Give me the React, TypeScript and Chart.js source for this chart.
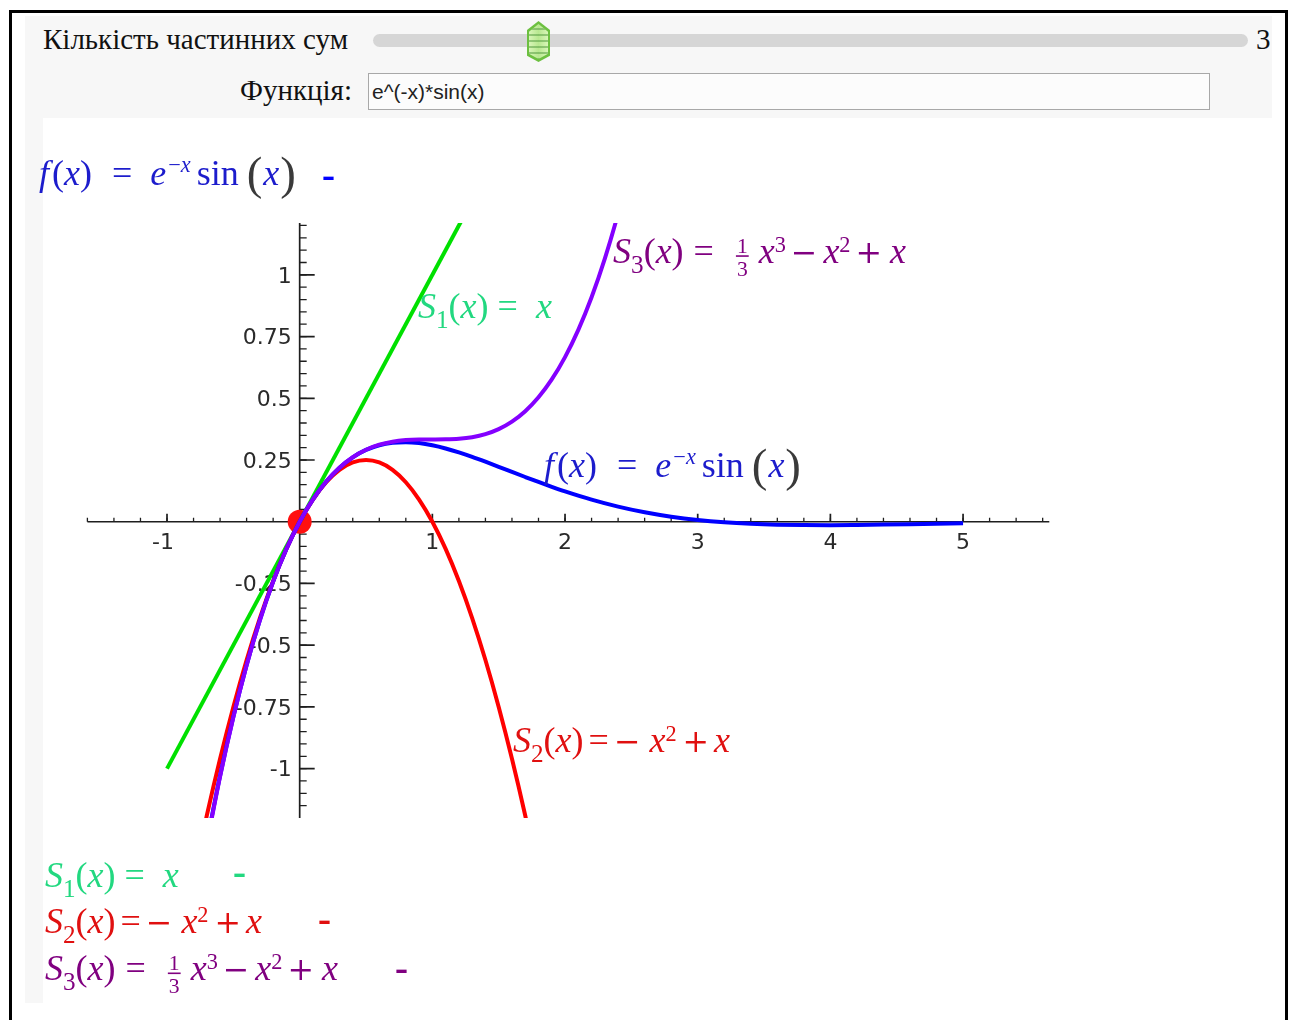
import React, { useEffect, useRef } from "react";
import { Chart, registerables } from "chart.js";

Chart.register(...registerables);

// f(x) = e^(-x) * sin(x) and its first three partial Taylor sums about x = 0
const s1X = [-1, 1.3];
const s1Y = [-1, 1.3];

const s2X = [-0.8, -0.7, -0.6, -0.5, -0.4, -0.3, -0.2, -0.1, 0, 0.1, 0.2, 0.3, 0.4, 0.5, 0.6, 0.7, 0.8, 0.9, 1.0, 1.1, 1.2, 1.3, 1.4, 1.5, 1.6, 1.7, 1.8];
const s2Y = [-1.44, -1.19, -0.96, -0.75, -0.56, -0.39, -0.24, -0.11, 0, 0.09, 0.16, 0.21, 0.24, 0.25, 0.24, 0.21, 0.16, 0.09, 0, -0.11, -0.24, -0.39, -0.56, -0.75, -0.96, -1.19, -1.44];

const s3X = [-0.7, -0.6, -0.5, -0.4, -0.3, -0.2, -0.1, 0, 0.1, 0.2, 0.3, 0.4, 0.5, 0.6, 0.7, 0.8, 0.9, 1.0, 1.1, 1.2, 1.3, 1.4, 1.5, 1.6, 1.7, 1.8, 1.9, 2.0, 2.1, 2.2, 2.3, 2.4, 2.5];
const s3Y = [-1.3043, -1.032, -0.7917, -0.5813, -0.399, -0.2427, -0.1103, 0, 0.0903, 0.1627, 0.219, 0.2613, 0.2917, 0.312, 0.3243, 0.3307, 0.333, 0.3333, 0.3337, 0.336, 0.3423, 0.3547, 0.375, 0.4053, 0.4477, 0.504, 0.5763, 0.6667, 0.777, 0.9093, 1.0657, 1.248, 1.4583];

const fX = [-0.7, -0.6, -0.5, -0.4, -0.3, -0.2, -0.1, 0, 0.1, 0.2, 0.3, 0.4, 0.5, 0.6, 0.7, 0.8, 0.9, 1.0, 1.1, 1.2, 1.3, 1.4, 1.5, 1.6, 1.7, 1.8, 1.9, 2.0, 2.2, 2.4, 2.6, 2.8, 3.0, 3.2, 3.4, 3.6, 3.8, 4.0, 4.2, 4.4, 4.6, 4.8, 5.0];
const fY = [-1.2973, -1.0288, -0.7904, -0.581, -0.3989, -0.2427, -0.1103, 0, 0.0903, 0.1627, 0.2189, 0.261, 0.2908, 0.3099, 0.3199, 0.3223, 0.3185, 0.3096, 0.2967, 0.2807, 0.2626, 0.243, 0.2226, 0.2018, 0.1812, 0.161, 0.1416, 0.1231, 0.0896, 0.0613, 0.0383, 0.0204, 0.007, -0.0024, -0.0085, -0.0121, -0.0137, -0.0139, -0.0131, -0.0117, -0.01, -0.0082, -0.0065];

// expansion point
const originX = [0];
const originY = [0];

// axis ticks
const xMajorTicks = [-1, 1, 2, 3, 4, 5];
const xTickLabels = ["-1", "1", "2", "3", "4", "5"];
const yMajorTicks = [1, 0.75, 0.5, 0.25, -0.25, -0.5, -0.75, -1];
const yTickLabels = ["1", "0.75", "0.5", "0.25", "-0.25", "-0.5", "-0.75", "-1"];
const xMinorStep = 0.2;
const yMinorStep = 0.05;

const X_MIN = -1.6;
const X_MAX = 5.65;
const Y_MIN = -1.2;
const Y_MAX = 1.21;

const COLOR_S1 = "#00e000";
const COLOR_S2 = "#ff0000";
const COLOR_S3 = "#8400ff";
const COLOR_F = "#0000ff";
const TEXT_S1 = "#22d880";
const TEXT_S2 = "#e01010";
const TEXT_S3 = "#800080";
const TEXT_F = "#1c1ccc";

const MATH_SIZE = 36;

type Run = {
  t?: string;
  it?: boolean;
  op?: boolean;
  s?: number;
  dy?: number;
  dx?: number;
  c?: string;
  frac?: [string, string];
};

const pts = (xs: number[], ys: number[]) => xs.map((x, i) => ({ x, y: ys[i] }));

function drawMath(ctx: CanvasRenderingContext2D, x0: number, y0: number, color: string, runs: Run[]) {
  let x = x0;
  ctx.textAlign = "left";
  ctx.textBaseline = "alphabetic";
  for (const r of runs) {
    x += r.dx ?? 0;
    const sz = MATH_SIZE * (r.s ?? 1);
    ctx.fillStyle = r.c ?? color;
    if (r.frac) {
      ctx.font = `${sz}px "Liberation Serif"`;
      const w = Math.max(ctx.measureText(r.frac[0]).width, ctx.measureText(r.frac[1]).width) + 2;
      ctx.textAlign = "center";
      ctx.fillText(r.frac[0], x + w / 2, y0 - 10);
      ctx.fillText(r.frac[1], x + w / 2, y0 + 13);
      ctx.fillRect(x, y0 - 7.5, w, 1.6);
      ctx.textAlign = "left";
      x += w;
      continue;
    }
    ctx.font = r.op
      ? `${sz * 0.88}px "DejaVu Serif"`
      : `${r.it ? "italic " : ""}${sz}px "Liberation Serif"`;
    ctx.fillText(r.t ?? "", x, y0 + (r.dy ?? 0));
    x += ctx.measureText(r.t ?? "").width;
  }
}

function drawDash(ctx: CanvasRenderingContext2D, x: number, y: number, color: string) {
  ctx.save();
  ctx.font = 'bold 26px "DejaVu Sans"';
  ctx.textAlign = "left";
  ctx.textBaseline = "middle";
  ctx.fillStyle = color;
  ctx.fillText("\u2013", x, y);
  ctx.restore();
}

const fRuns = (parenColor: string): Run[] => [
  { t: "f", it: true },
  { t: "(", dx: 3 },
  { t: "x", it: true },
  { t: ")" },
  { t: "=", dx: 20 },
  { t: "e", it: true, dx: 18 },
  { t: "\u2212", s: 0.62, dy: -13, dx: 2 },
  { t: "x", it: true, s: 0.62, dy: -13 },
  { t: "sin", dx: 6 },
  { t: "(", s: 1.3, dy: 4, dx: 8, c: parenColor },
  { t: "x", it: true, dx: 1 },
  { t: ")", s: 1.3, dy: 4, dx: 1, c: parenColor },
];

const s1Runs: Run[] = [
  { t: "S", it: true },
  { t: "1", s: 0.7, dy: 10 },
  { t: "(" },
  { t: "x", it: true },
  { t: ")" },
  { t: "=", dx: 9 },
  { t: "x", it: true, dx: 18 },
];

const s2Runs: Run[] = [
  { t: "S", it: true },
  { t: "2", s: 0.7, dy: 10 },
  { t: "(" },
  { t: "x", it: true },
  { t: ")" },
  { t: "=", dx: 5 },
  { t: "\u2212", op: true, dx: 5 },
  { t: "x", it: true, dx: 9 },
  { t: "2", s: 0.62, dy: -11 },
  { t: "+", op: true, dx: 6 },
  { t: "x", it: true, dx: 5 },
];

const s3Runs: Run[] = [
  { t: "S", it: true },
  { t: "3", s: 0.7, dy: 10 },
  { t: "(" },
  { t: "x", it: true },
  { t: ")" },
  { t: "=", dx: 10 },
  { frac: ["1", "3"], s: 0.6, dx: 22 },
  { t: "x", it: true, dx: 10 },
  { t: "3", s: 0.62, dy: -11 },
  { t: "\u2212", op: true, dx: 5 },
  { t: "x", it: true, dx: 6 },
  { t: "2", s: 0.62, dy: -11 },
  { t: "+", op: true, dx: 5 },
  { t: "x", it: true, dx: 8 },
];

export default function App() {
  const canvasRef = useRef<HTMLCanvasElement | null>(null);

  useEffect(() => {
    const canvas = canvasRef.current;
    if (!canvas) return;

    const axesPlugin = {
      id: "originAxes",
      beforeDatasetsDraw(chart: any) {
        const { ctx, chartArea } = chart;
        const xs = chart.scales.x;
        const ys = chart.scales.y;
        const px0 = xs.getPixelForValue(0);
        const py0 = ys.getPixelForValue(0);
        ctx.save();
        ctx.strokeStyle = "#1e1e1e";
        ctx.lineWidth = 1.7;
        ctx.beginPath();
        ctx.moveTo(chartArea.left, py0);
        ctx.lineTo(chartArea.right, py0);
        ctx.moveTo(px0, chartArea.top);
        ctx.lineTo(px0, chartArea.bottom);
        ctx.stroke();

        ctx.lineWidth = 1.3;
        ctx.beginPath();
        // minor ticks along x
        for (let v = Math.ceil(X_MIN / xMinorStep) * xMinorStep; v <= X_MAX + 1e-9; v += xMinorStep) {
          const p = xs.getPixelForValue(v);
          ctx.moveTo(p, py0);
          ctx.lineTo(p, py0 - 4);
        }
        // minor ticks along y
        for (let v = Math.ceil(Y_MIN / yMinorStep) * yMinorStep; v <= Y_MAX + 1e-9; v += yMinorStep) {
          const p = ys.getPixelForValue(v);
          ctx.moveTo(px0, p);
          ctx.lineTo(px0 + 7, p);
        }
        ctx.stroke();

        ctx.lineWidth = 1.7;
        ctx.beginPath();
        xMajorTicks.forEach((v) => {
          const p = xs.getPixelForValue(v);
          ctx.moveTo(p, py0);
          ctx.lineTo(p, py0 - 8);
        });
        yMajorTicks.forEach((v) => {
          const p = ys.getPixelForValue(v);
          ctx.moveTo(px0, p);
          ctx.lineTo(px0 + 15, p);
        });
        ctx.stroke();

        ctx.fillStyle = "#2a2a2a";
        ctx.font = '22px "DejaVu Sans"';
        ctx.textAlign = "center";
        ctx.textBaseline = "alphabetic";
        xMajorTicks.forEach((v, i) => {
          const shift = xTickLabels[i].startsWith("-") ? -4 : 0;
          ctx.fillText(xTickLabels[i], xs.getPixelForValue(v) + shift, py0 + 27);
        });
        ctx.textAlign = "right";
        ctx.textBaseline = "middle";
        yMajorTicks.forEach((v, i) => {
          ctx.fillText(yTickLabels[i], px0 - 8, ys.getPixelForValue(v) + 2);
        });
        ctx.restore();
      },
      afterDatasetsDraw(chart: any) {
        const { ctx } = chart;
        const xs = chart.scales.x;
        const ys = chart.scales.y;
        const at = (x: number, y: number): [number, number] => [xs.getPixelForValue(x), ys.getPixelForValue(y)];
        ctx.save();

        // curve captions inside the plot
        let [lx, ly] = at(0.892, 0.825);
        drawMath(ctx, lx, ly, TEXT_S1, s1Runs);
        [lx, ly] = at(2.362, 1.049);
        drawMath(ctx, lx, ly, TEXT_S3, s3Runs);
        [lx, ly] = at(1.842, 0.183);
        drawMath(ctx, lx, ly, TEXT_F, fRuns("#3a3a3a"));
        [lx, ly] = at(1.608, -0.931);
        drawMath(ctx, lx, ly, TEXT_S2, s2Runs);

        // heading formula
        drawMath(ctx, 14, 67, TEXT_F, fRuns("#3a3a3a"));
        drawDash(ctx, 297, 61, COLOR_F);

        // partial sums listed underneath the plot
        drawMath(ctx, 20, 769, TEXT_S1, s1Runs);
        drawDash(ctx, 208, 758, TEXT_S1);
        drawMath(ctx, 20, 815, TEXT_S2, s2Runs);
        drawDash(ctx, 293, 805, TEXT_S2);
        drawMath(ctx, 20, 862, TEXT_S3, s3Runs);
        drawDash(ctx, 370, 854, TEXT_S3);

        ctx.restore();
      },
    };

    const lineDs = (label: string, xs: number[], ys: number[], color: string, order: number, smooth: boolean) => ({
      label,
      data: pts(xs, ys),
      borderColor: color,
      backgroundColor: color,
      borderWidth: 4,
      pointRadius: 0,
      fill: false,
      tension: 0,
      cubicInterpolationMode: smooth ? "monotone" : "default",
      clip: 0,
      order,
    });

    const chart = new Chart(canvas, {
      type: "line",
      data: {
        datasets: [
          lineDs("S3", s3X, s3Y, COLOR_S3, 1, true),
          lineDs("f", fX, fY, COLOR_F, 2, true),
          lineDs("S2", s2X, s2Y, COLOR_S2, 3, true),
          lineDs("S1", s1X, s1Y, COLOR_S1, 4, false),
          {
            label: "x0",
            data: pts(originX, originY),
            showLine: false,
            pointRadius: 12,
            pointBorderWidth: 0,
            pointBackgroundColor: "#ff1010",
            pointBorderColor: "#ff1010",
            clip: false,
            order: 5,
          },
        ] as any,
      },
      options: {
        responsive: false,
        maintainAspectRatio: false,
        animation: false,
        events: [],
        layout: { padding: { left: 62.4, right: 222.7, top: 105, bottom: 185 } },
        plugins: { legend: { display: false }, tooltip: { enabled: false } },
        scales: {
          x: { type: "linear", min: X_MIN, max: X_MAX, display: false },
          y: { type: "linear", min: Y_MIN, max: Y_MAX, display: false },
        },
      },
      plugins: [axesPlugin],
    });

    return () => chart.destroy();
  }, []);

  const serif = '"Liberation Serif", "Times New Roman", serif';

  return (
    <div style={{ position: "absolute", left: 0, top: 0, width: 1290, height: 1020, overflow: "hidden", background: "#fff" }}>
      <div
        style={{
          position: "absolute",
          left: 9,
          top: 10,
          width: 1279,
          height: 1040,
          border: "3px solid #000",
          boxSizing: "border-box",
          background: "#fff",
        }}
      />
      <div style={{ position: "absolute", left: 25, top: 16, width: 1247, height: 987, background: "#f7f7f7" }} />
      <div style={{ position: "absolute", left: 43, top: 118, width: 1229, height: 885, background: "#fff" }} />

      <div style={{ position: "absolute", left: 43, top: 25, fontFamily: serif, fontSize: 29, lineHeight: "29px", color: "#111", whiteSpace: "nowrap" }}>
        Кількість частинних сум
      </div>
      <div style={{ position: "absolute", left: 373, top: 34, width: 875, height: 13, borderRadius: 7, background: "#d6d6d6" }} />
      <div
        style={{
          position: "absolute",
          left: 527,
          top: 21,
          width: 23,
          height: 41,
          background: "#6cc040",
          clipPath: "polygon(50% 0, 100% 22%, 100% 85%, 50% 100%, 0 85%, 0 22%)",
        }}
      >
        <div
          style={{
            position: "absolute",
            left: 2,
            top: 3,
            width: 19,
            height: 35,
            background:
              "repeating-linear-gradient(180deg, transparent 0 4px, rgba(90,160,70,0.55) 4px 6px), linear-gradient(90deg, #d8f5b8, #b8e890 50%, #d8f5b8)",
            clipPath: "polygon(50% 0, 100% 22%, 100% 85%, 50% 100%, 0 85%, 0 22%)",
          }}
        />
      </div>
      <div style={{ position: "absolute", left: 1256, top: 25, fontFamily: serif, fontSize: 29, lineHeight: "29px", color: "#111" }}>3</div>

      <div style={{ position: "absolute", left: 170, top: 76, width: 182, textAlign: "right", fontFamily: serif, fontSize: 29, lineHeight: "29px", color: "#111", whiteSpace: "nowrap" }}>
        Функція:
      </div>
      <div
        style={{
          position: "absolute",
          left: 368,
          top: 73,
          width: 842,
          height: 37,
          boxSizing: "border-box",
          border: "1px solid #a8a8a8",
          background: "#fcfcfc",
          fontFamily: '"Liberation Sans", Arial, sans-serif',
          fontSize: 21,
          lineHeight: "36px",
          paddingLeft: 3,
          color: "#222",
          whiteSpace: "nowrap",
        }}
      >
        e^(-x)*sin(x)
      </div>

      <canvas
        ref={canvasRef}
        width={1247}
        height={885}
        style={{ position: "absolute", left: 25, top: 118, width: 1247, height: 885 }}
      />
    </div>
  );
}
